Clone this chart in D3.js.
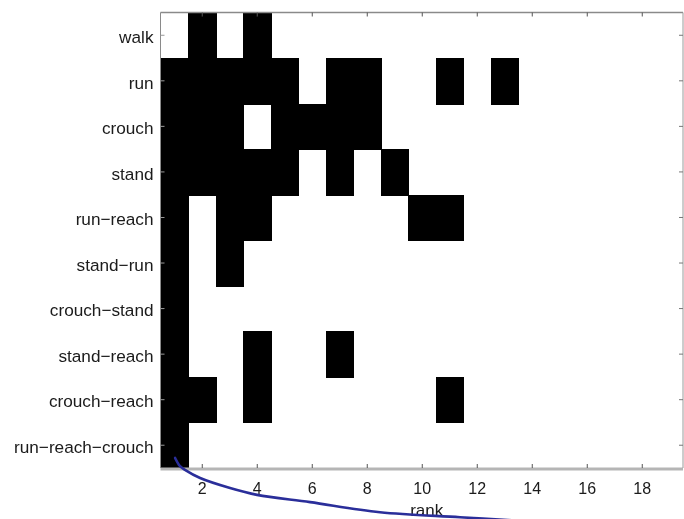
<!DOCTYPE html>
<html>
<head>
<meta charset="utf-8">
<script src="https://cdn.jsdelivr.net/npm/d3@7"></script>
<style>
  html, body { margin: 0; padding: 0; background: #fff; }
  svg { display: block; }
  text { font-family: "Liberation Sans", Arial, sans-serif; fill: #1a1a1a; }
</style>
</head>
<body>
<svg id="chart" width="684" height="519"></svg>
<script>
// ---- data ----
const categories = ["walk", "run", "crouch", "stand", "run\u2212reach", "stand\u2212run",
  "crouch\u2212stand", "stand\u2212reach", "crouch\u2212reach", "run\u2212reach\u2212crouch"];
const ranks = d3.range(1, 20);            // 1..19
const xTickValues = [2, 4, 6, 8, 10, 12, 14, 16, 18];
const xLabel = "rank";
// ranks that are "on" (black) for each category
const walkRanks = [2, 4];
const runRanks = [1, 2, 3, 4, 5, 7, 8, 11, 13];
const crouchRanks = [1, 2, 3, 5, 6, 7, 8];
const standRanks = [1, 2, 3, 4, 5, 7, 9];
const runReachRanks = [1, 3, 4, 10, 11];
const standRunRanks = [1, 3];
const crouchStandRanks = [1];
const standReachRanks = [1, 4, 7];
const crouchReachRanks = [1, 2, 4, 11];
const runReachCrouchRanks = [1];
const onRanks = [walkRanks, runRanks, crouchRanks, standRanks, runReachRanks,
  standRunRanks, crouchStandRanks, standReachRanks, crouchReachRanks, runReachCrouchRanks];
// hand-drawn annotation stroke, in (rank, row) data units
const annotationRank = [1.03, 1.21, 1.39, 1.94, 3.03, 4.01, 5.94, 8.48, 11.39, 13.57];
const annotationRow  = [9.78, 9.96, 10.04, 10.22, 10.44, 10.59, 10.75, 10.97, 11.08, 11.16];

// ---- layout ----
const mLeft = 160.5, mRight = 683, mTop = 12.5, mBottom = 468;
const svg = d3.select("#chart");
const defs = svg.append("defs");
defs.append("filter").attr("id", "soft")
  .attr("x", "-5%").attr("y", "-5%").attr("width", "110%").attr("height", "110%")
  .append("feGaussianBlur").attr("stdDeviation", 0.6);
const g = svg.append("g").attr("filter", "url(#soft)");

const x = d3.scaleLinear().domain([0.5, 19.5]).range([mLeft, mRight]);
const y = d3.scaleBand().domain(categories).range([mTop, mBottom]).paddingInner(0).paddingOuter(0);
const yc = d3.scaleLinear().domain([0, categories.length]).range([mTop, mBottom]);

// cells
const cells = [];
categories.forEach((c, i) => onRanks[i].forEach(r => cells.push({ c, r })));
g.append("g").attr("shape-rendering", "crispEdges")
  .selectAll("rect").data(cells).join("rect")
  .attr("x", d => Math.round(x(d.r - 0.5)))
  .attr("y", d => Math.round(y(d.c)))
  .attr("width", d => Math.round(x(d.r + 0.5)) - Math.round(x(d.r - 0.5)) + 1)
  .attr("height", d => Math.round(y(d.c) + y.bandwidth()) - Math.round(y(d.c)) + 1)
  .attr("fill", "#000");

// frame
g.append("line").attr("x1", mLeft).attr("x2", mRight).attr("y1", mTop).attr("y2", mTop)
  .attr("stroke", "#8a8a8a").attr("stroke-width", 1.5);
g.append("line").attr("x1", mLeft).attr("x2", mRight).attr("y1", mBottom + 1).attr("y2", mBottom + 1)
  .attr("stroke", "#b5b5b5").attr("stroke-width", 3);
g.append("line").attr("x1", mRight).attr("x2", mRight).attr("y1", mTop).attr("y2", mBottom)
  .attr("stroke", "#9a9a9a").attr("stroke-width", 1);
g.append("line").attr("x1", mLeft).attr("x2", mLeft).attr("y1", mTop).attr("y2", mBottom)
  .attr("stroke", "#8a8a8a").attr("stroke-width", 1);

// bottom axis (ticks inward) with labels
const xAxisB = d3.axisBottom(x).tickValues(xTickValues).tickSize(-4).tickPadding(15)
  .tickFormat(d3.format("d"));
const gxb = g.append("g").attr("transform", `translate(0,${mBottom})`).call(xAxisB);
gxb.select(".domain").remove();
gxb.selectAll(".tick line").attr("stroke", "#555").attr("stroke-width", 1);
gxb.selectAll(".tick text").attr("font-size", 16).attr("fill", "#1a1a1a")
  .attr("font-family", "Liberation Sans, Arial, sans-serif");

// top axis (ticks inward)
const gxt = g.append("g").attr("transform", `translate(0,${mTop})`)
  .call(d3.axisTop(x).tickValues(xTickValues).tickSize(-4).tickFormat(""));
gxt.select(".domain").remove();
gxt.selectAll(".tick line").attr("stroke", "#555");

// left axis with category labels
const gyl = g.append("g").attr("transform", `translate(${mLeft},0)`)
  .call(d3.axisLeft(y).tickSize(-4).tickPadding(7));
gyl.select(".domain").remove();
gyl.selectAll(".tick line").attr("stroke", "#999");
gyl.selectAll(".tick text").attr("font-size", 17.2).attr("fill", "#1a1a1a")
  .attr("dy", "0.45em")
  .attr("font-family", "Liberation Sans, Arial, sans-serif");

// right axis ticks
const gyr = g.append("g").attr("transform", `translate(${mRight},0)`)
  .call(d3.axisRight(y).tickSize(-4).tickFormat(""));
gyr.select(".domain").remove();
gyr.selectAll(".tick line").attr("stroke", "#777");

// x label
g.append("text").attr("x", x(10.18)).attr("y", mBottom + 48)
  .attr("text-anchor", "middle").attr("font-size", 17).text(xLabel);

// annotation stroke
const annPts = annotationRank.map((r, i) => [r, annotationRow[i]]);
g.append("path").datum(annPts)
  .attr("d", d3.line().x(d => x(d[0])).y(d => yc(d[1])).curve(d3.curveCatmullRom))
  .attr("fill", "none").attr("stroke", "#2b2f9a").attr("stroke-width", 2.6)
  .attr("stroke-linecap", "round");
</script>
</body>
</html>
